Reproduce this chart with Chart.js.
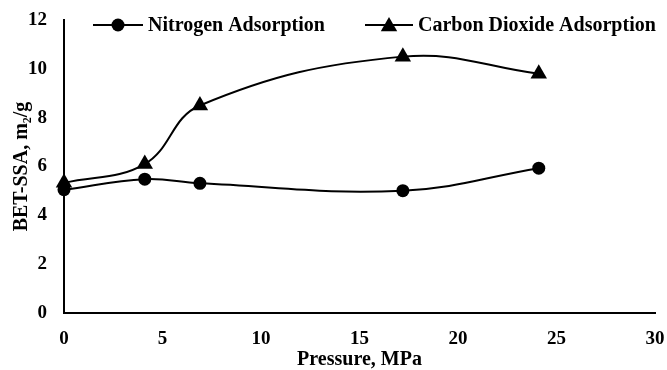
<!DOCTYPE html>
<html>
<head>
<meta charset="utf-8">
<script src="https://cdn.jsdelivr.net/npm/chart.js@4/dist/chart.umd.min.js"></script>
<style>
html,body{margin:0;padding:0;background:#fff;}
#wrap{width:667px;height:370px;}
</style>
</head>
<body>
<div id="wrap"><canvas id="c" width="667" height="370"></canvas></div>
<script>
const pressure = [0, 4.1, 6.9, 17.2, 24.1];
const nitrogen = [5.05, 5.48, 5.31, 5.01, 5.93];
const carbonDioxide = [5.33, 6.1, 8.5, 10.5, 9.8];
const seriesNames = ['Nitrogen Adsorption', 'Carbon Dioxide Adsorption'];
const xTitle = 'Pressure, MPa';
const yTitle = 'BET-SSA, m\u2082/g';

const FONT = '"Liberation Serif", "Times New Roman", serif';
Chart.defaults.font.family = FONT;
Chart.defaults.font.weight = 'bold';
Chart.defaults.color = '#000';

function toPts(xs, ys){ return xs.map((x,i)=>({x:x, y:ys[i]})); }

function drawMarker(ctx, style, x, y, r){
  ctx.beginPath();
  if (style === 'circle') {
    ctx.arc(x, y, r, 0, Math.PI*2);
  } else {
    let rad = 0;
    ctx.moveTo(x + Math.sin(rad)*r, y - Math.cos(rad)*r);
    rad += 2*Math.PI/3;
    ctx.lineTo(x + Math.sin(rad)*r, y - Math.cos(rad)*r);
    rad += 2*Math.PI/3;
    ctx.lineTo(x + Math.sin(rad)*r, y - Math.cos(rad)*r);
    ctx.closePath();
  }
  ctx.fill();
}

const legendPlugin = {
  id: 'customLegend',
  afterDraw(chart){
    const ctx = chart.ctx;
    const items = [
      {x0: 93, x1: 143, style: 'circle', r: 6.5, text: seriesNames[0]},
      {x0: 365, x1: 413, style: 'triangle', r: 9.5, text: seriesNames[1]}
    ];
    const y = 25;
    ctx.save();
    ctx.strokeStyle = '#000';
    ctx.fillStyle = '#000';
    ctx.lineWidth = 2;
    ctx.font = 'bold 20px ' + FONT;
    ctx.textBaseline = 'middle';
    ctx.textAlign = 'left';
    items.forEach(it => {
      ctx.beginPath();
      ctx.moveTo(it.x0, y);
      ctx.lineTo(it.x1, y);
      ctx.stroke();
      const cx = (it.x0 + it.x1)/2;
      drawMarker(ctx, it.style, cx, it.style === 'triangle' ? y + 1.5 : y, it.r);
      ctx.fillText(it.text, it.x1 + 5, y + 1);
    });
    ctx.restore();
  }
};

new Chart(document.getElementById('c'), {
  type: 'line',
  data: {
    datasets: [
      {
        label: seriesNames[0],
        data: toPts(pressure, nitrogen),
        borderColor: '#000',
        backgroundColor: '#000',
        borderWidth: 2,
        pointStyle: 'circle',
        pointRadius: 6.5,
        pointHoverRadius: 6.5,
        pointBorderWidth: 0,
        tension: 0.4,
        clip: false
      },
      {
        label: seriesNames[1],
        data: toPts(pressure, carbonDioxide),
        borderColor: '#000',
        backgroundColor: '#000',
        borderWidth: 2,
        pointStyle: 'triangle',
        pointRadius: 9.5,
        pointHoverRadius: 9.5,
        pointBorderWidth: 0,
        tension: 0.4,
        clip: false
      }
    ]
  },
  options: {
    responsive: false,
    animation: false,
    events: [],
    layout: { padding: { top: 20, right: 12, left: 0, bottom: 0 } },
    plugins: { legend: { display: false }, tooltip: { enabled: false } },
    scales: {
      x: {
        type: 'linear',
        min: 0, max: 30,
        ticks: { stepSize: 5, padding: 15, font: { size: 19, weight: 'bold' }, color: '#000', maxRotation: 0 },
        grid: { display: false, drawTicks: false },
        border: { display: true, color: '#000', width: 2 },
        title: { display: true, text: xTitle, font: { size: 20, weight: 'bold', lineHeight: 1 }, color: '#000', padding: { top: 0, bottom: 0 } },
        afterFit(s){ s.height = 57; s.paddingLeft = 0; s.paddingRight = 0; }
      },
      y: {
        type: 'linear',
        min: 0, max: 12,
        ticks: { stepSize: 2, padding: 17, font: { size: 19, weight: 'bold' }, color: '#000' },
        grid: { display: false, drawTicks: false },
        border: { display: true, color: '#000', width: 2 },
        title: { display: true, text: yTitle, font: { size: 20, weight: 'bold' }, color: '#000', padding: { top: 10, bottom: 0 } },
        afterFit(s){ s.width = 64; s.paddingTop = 0; s.paddingBottom = 0; }
      }
    }
  },
  plugins: [legendPlugin]
});
</script>
</body>
</html>
